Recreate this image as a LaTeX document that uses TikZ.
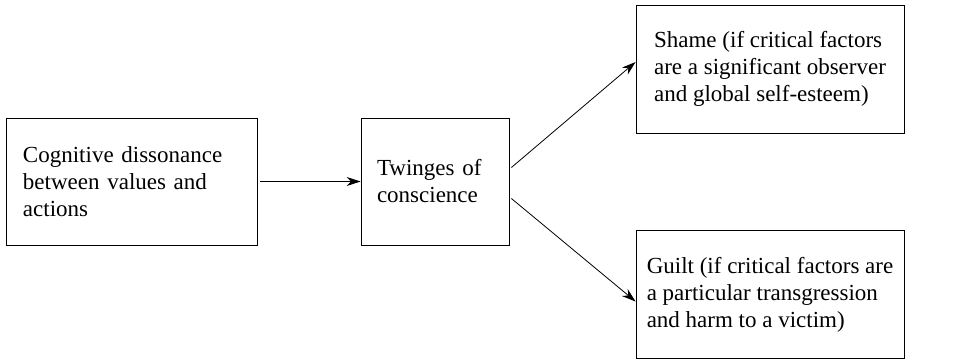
\documentclass[tikz,border=0pt]{standalone}
\usepackage{fontspec}
\setmainfont{Liberation Serif}
\usepackage{tikz}
\usepackage{xcolor}
\usetikzlibrary{arrows.meta}

\begin{document}
\begin{tikzpicture}[x=1pt,y=-1pt,
        box/.style={draw, line width=0.8pt, inner sep=0pt, align=left,
            font=\fontsize{23}{27}\selectfont},
        arr/.style={-{Stealth[length=14pt,width=9pt]}, line width=0.8pt}]
            \useasboundingbox (0,0) rectangle (959,359);
            \node[box, minimum width=251pt, minimum height=127pt, text width=217pt] (dissonance) at (131.5,181.5) {Cognitive dissonance\\between values and\\actions};
            \node[box, minimum width=148pt, minimum height=127pt, text width=116pt] (twinges) at (435,181.5) {Twinges of\\conscience};
            \node[box, minimum width=268pt, minimum height=128pt] (shame) at (770,69) {Shame (if critical factors\\are a significant observer\\and global self-esteem)};
            \node[box, minimum width=268pt, minimum height=128pt] (guilt) at (770,294.5) {Guilt (if critical factors are\\a particular transgression\\and harm to a victim)};

            \draw[arr] ([xshift=3pt]dissonance.east) -- (twinges.west);
            \draw[arr] ([xshift=2pt,yshift=14pt]twinges.east) -- ([yshift=7pt]shame.west);
            \draw[arr] ([xshift=2pt,yshift=-17pt]twinges.east) -- ([yshift=-7pt]guilt.west);
        \end{tikzpicture}
\end{document}
